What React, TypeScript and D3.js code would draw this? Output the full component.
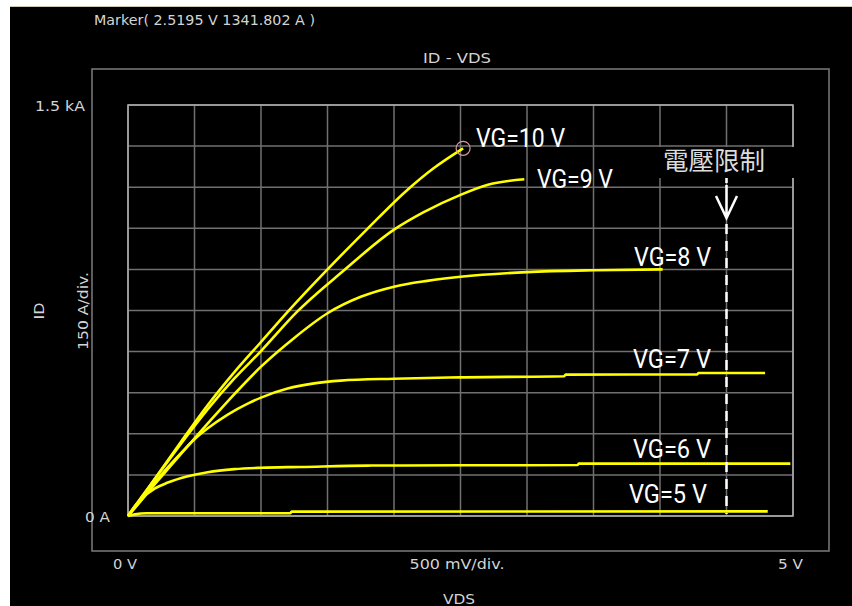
import React, { useEffect, useRef } from 'react';
import * as d3 from 'd3';

// ID - VDS curves, [VDS in V, ID in A]
const vg10: [number, number][] = [[0, 0], [0.1, 68], [0.2, 135], [0.4, 272], [0.6, 405], [0.8, 525], [1.0, 635], [1.2, 745], [1.5, 900], [1.8, 1048], [2.1, 1190], [2.3, 1270], [2.5195, 1341.802]];
const vg9: [number, number][] = [[0, 0], [0.1, 66], [0.2, 133], [0.4, 265], [0.6, 390], [0.8, 502], [1.0, 602], [1.27, 745], [1.62, 895], [2.0, 1045], [2.22, 1108], [2.5, 1172], [2.7, 1208], [2.98, 1229]];
const vg8: [number, number][] = [[0, 0], [0.2, 115], [0.4, 228], [0.6, 338], [0.8, 445], [1.0, 545], [1.25, 650], [1.5, 740], [1.75, 800], [2.0, 837], [2.25, 858], [2.5, 873], [3.0, 890], [3.5, 897], [4.02, 900]];
const vg7: [number, number][] = [[0, 0], [0.1, 58], [0.25, 150], [0.4, 230], [0.5, 280], [0.6, 320], [0.75, 370], [0.9, 410], [1.0, 432], [1.2, 465], [1.4, 484], [1.6, 494], [2.0, 501], [2.5, 506], [3.28, 510], [3.29, 516], [4.28, 517], [4.29, 522], [4.79, 522]];
const vg6: [number, number][] = [[0, 0], [0.05, 35], [0.1, 62], [0.2, 100], [0.3, 122], [0.45, 145], [0.6, 160], [0.8, 171], [1.0, 176], [1.3, 179], [1.8, 184], [2.5, 185], [3.38, 186], [3.39, 191], [4.98, 191]];
const vg5: [number, number][] = [[0, 0], [0.05, 6], [0.14, 10], [1.22, 10], [1.23, 16], [4.81, 17]];

const series = [vg10, vg9, vg8, vg7, vg6, vg5];
const seriesNames = ['VG=10 V', 'VG=9 V', 'VG=8 V', 'VG=7 V', 'VG=6 V', 'VG=5 V'];
// where each name sits, in V / A
const nameAt: [number, number][] = [[2.617, 1347], [3.075, 1197], [3.805, 912], [3.797, 540], [3.797, 212], [3.767, 47]];
const nameWidth = [89, 76, 77, 78, 78, 78];

const xTickLabels = ['0 V', '500 mV/div.', '5 V'];
const yTickLabels = ['0 A', '1.5 kA'];
const markerPoint: [number, number] = [2.5195, 1341.802];
const markerText = 'Marker( 2.5195 V 1341.802 A )';
const limitText = '電壓限制';
const vLimit = 4.5;

const App = () => {
  const ref = useRef<SVGSVGElement>(null);

  useEffect(() => {
    const svg = d3.select(ref.current);
    svg.selectAll('*').remove();

    const x = d3.scaleLinear().domain([0, 5]).range([128, 793]);
    const y = d3.scaleLinear().domain([0, 1500]).range([516, 105]);

    svg.append('rect').attr('width', 852).attr('height', 606).attr('fill', '#fff');
    svg.append('rect').attr('x', 10).attr('y', 7).attr('width', 842).attr('height', 599).attr('fill', '#000');
    svg.append('line').attr('x1', 10).attr('x2', 852).attr('y1', 6.5).attr('y2', 6.5)
      .attr('stroke', '#cfc6b4').attr('stroke-width', 1);

    // outer frame
    svg.append('rect').attr('x', 92).attr('y', 69).attr('width', 737).attr('height', 482)
      .attr('fill', 'none').attr('stroke', '#7c7c7c').attr('stroke-width', 1.5);

    // grid
    const g = svg.append('g').attr('stroke', '#707070').attr('stroke-width', 1.5);
    d3.range(0, 5.01, 0.5).forEach((v) => {
      g.append('line').attr('x1', x(v)).attr('x2', x(v)).attr('y1', y(0)).attr('y2', y(1500));
    });
    d3.range(0, 1501, 150).forEach((i) => {
      g.append('line').attr('y1', y(i)).attr('y2', y(i)).attr('x1', x(0)).attr('x2', x(5));
    });
    svg.append('rect').attr('x', x(0)).attr('y', y(1500)).attr('width', x(5) - x(0)).attr('height', y(0) - y(1500))
      .attr('fill', 'none').attr('stroke', '#b0b0b0').attr('stroke-width', 1.5);

    const text = (tx: number, ty: number, str: string, len: number, opts: any = {}) => {
      const t = svg.append('text')
        .attr('x', tx).attr('y', ty)
        .attr('font-family', opts.family || '"DejaVu Sans", sans-serif')
        .attr('font-size', opts.size || 14)
        .attr('fill', opts.fill || '#d4d4d4')
        .attr('text-anchor', opts.anchor || 'start')
        .attr('textLength', len).attr('lengthAdjust', 'spacingAndGlyphs')
        .text(str);
      if (opts.rotate) t.attr('transform', `rotate(-90 ${tx} ${ty})`);
      return t;
    };

    text(94, 25, markerText, 221);
    text(457, 63, 'ID - VDS', 68, { anchor: 'middle' });
    text(x(0) - 43, y(0) + 5.5, yTickLabels[0], 25);
    text(x(0) - 93, y(1500) + 5.5, yTickLabels[1], 50);
    text(x(0) - 15, 569, xTickLabels[0], 24);
    text(457, 569, xTickLabels[1], 95, { anchor: 'middle' });
    text(x(5) - 15, 569, xTickLabels[2], 25);
    text(459, 604, 'VDS', 32, { anchor: 'middle' });
    text(44, 311, 'ID', 17, { anchor: 'middle', rotate: true });
    text(88, 311, '150 A/div.', 78, { anchor: 'middle', rotate: true });

    // voltage limit
    svg.append('rect').attr('x', 650).attr('y', 147).attr('width', 147).attr('height', 31).attr('fill', '#000');
    text(663, 169.5, limitText, 102, { family: '"Noto Sans CJK TC", sans-serif', size: 25, fill: '#dcdcdc' });

    // curves
    const line = d3.line<[number, number]>()
      .x((d) => x(d[0]))
      .y((d) => y(d[1]))
      .curve(d3.curveMonotoneX);
    svg.append('g').selectAll('path')
      .data(series)
      .enter().append('path')
      .attr('d', (d) => line(d))
      .attr('fill', 'none')
      .attr('stroke', '#ffff00')
      .attr('stroke-width', 2.6)
      .attr('stroke-linejoin', 'round');

    svg.append('line').attr('x1', x(vLimit)).attr('x2', x(vLimit)).attr('y1', 178).attr('y2', 183)
      .attr('stroke', '#fff').attr('stroke-width', 2.5);
    svg.append('line').attr('x1', x(vLimit)).attr('x2', x(vLimit)).attr('y1', 224).attr('y2', y(0) - 2)
      .attr('stroke', '#fff').attr('stroke-width', 2.5).attr('stroke-dasharray', '10,7');
    svg.append('path')
      .attr('d', `M${x(vLimit)},185V218M${x(vLimit) - 10.5},196L${x(vLimit)},218L${x(vLimit) + 10.5},196`)
      .attr('fill', 'none').attr('stroke', '#fff').attr('stroke-width', 2.5);

    // marker
    svg.append('circle').attr('cx', x(markerPoint[0])).attr('cy', y(markerPoint[1])).attr('r', 7)
      .attr('fill', 'none').attr('stroke', '#d99aa4').attr('stroke-width', 1.2);

    seriesNames.forEach((name, i) => {
      text(x(nameAt[i][0]), y(nameAt[i][1]), name, nameWidth[i], { family: 'Roboto, sans-serif', size: 25, fill: '#fff' });
    });
  }, []);

  return <svg ref={ref} width={852} height={606} style={{ position: 'absolute', left: 0, top: 0, display: 'block' }} />;
};

export default App;
